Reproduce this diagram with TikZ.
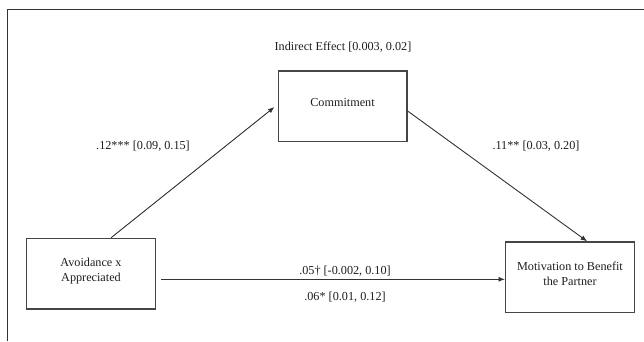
\documentclass[tikz,border=0pt]{standalone}
\usepackage{fontspec}
\setmainfont{Liberation Serif}
\usetikzlibrary{arrows.meta,calc}
\definecolor{boxgray}{HTML}{454545}
\definecolor{linegray}{HTML}{333333}
\definecolor{txt}{HTML}{1E1E1E}
\begin{document}
\begin{tikzpicture}[x=1pt,y=-1pt,
  every node/.style={text=txt,font=\fontsize{12.2}{15}\selectfont},
  varbox/.style={draw=boxgray,line width=1.4pt,minimum width=128.6pt,minimum height=70.7pt,inner sep=0pt,align=center,text depth=7pt},
  lbl/.style={inner sep=1pt},
  arr/.style={draw=linegray,line width=0.9pt,-{Latex[length=6.5pt,width=5pt]}}]
\useasboundingbox (0,0) rectangle (644,341);
\draw[linegray,line width=1.1pt] (7.5,341) -- (7.5,9.5) -- (644,9.5);
\node[varbox] (comm) at (342.5,106.4) {Commitment};
\node[varbox] (avoid) at (91,273.7) {Avoidance x\\Appreciated};
\node[varbox,minimum height=70.3pt] (mot) at (570,277.2) {Motivation to Benefit\\the Partner};
\node[lbl] (ind) at (343,46.7) {Indirect Effect [0.003, 0.02]};
\node[lbl] (l12) at (143,146) {.12*** [0.09, 0.15]};
\node[lbl] (l11) at (536,146) {.11** [0.03, 0.20]};
\node[lbl] (l05) at (345,271.5) {.05† [-0.002, 0.10]};
\node[lbl] (l06) at (345,297) {.06* [0.01, 0.12]};
\draw[arr] ($(avoid.north west)!0.655!(avoid.north east)$) -- ($(comm.west)+(-3,0.6)$);
\draw[arr] ($(comm.east)+(0,4.5)$) -- ($(mot.north west)!0.632!(mot.north east)$);
\coordinate (hs) at ($(avoid.east)+(5,5.6)$);
\draw[arr] (hs) -- (mot.west |- hs);
\end{tikzpicture}
\end{document}
